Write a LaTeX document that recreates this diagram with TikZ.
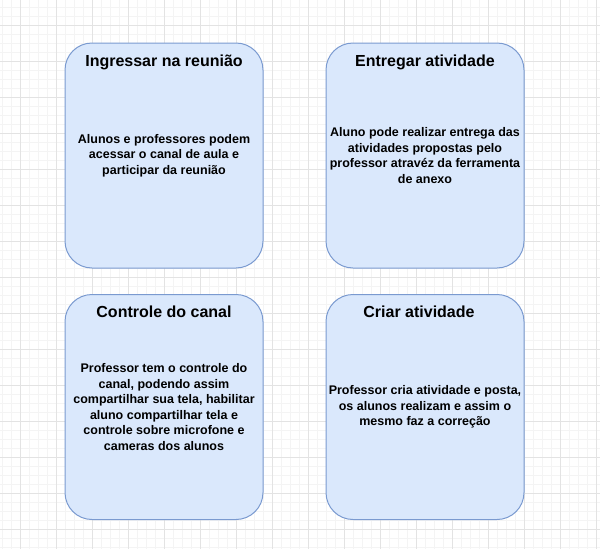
\documentclass[tikz,border=0pt]{standalone}
\usepackage{fontspec}
\setmainfont{Liberation Sans}
\usepackage{tikz}

\definecolor{cardfill}{HTML}{DAE8FC}
\definecolor{carddraw}{HTML}{7A9AD0}
\definecolor{gridminor}{HTML}{F4F4F4}
\definecolor{gridmajor}{HTML}{E3E3E3}

\tikzset{
    card/.style={draw=carddraw, fill=cardfill, line width=1pt, rounded corners=27pt,
        minimum width=198pt, minimum height=225pt, inner sep=0pt},
    cardtitle/.style={anchor=base, inner sep=0pt, font=\fontsize{16}{19}\selectfont\bfseries},
    cardtext/.style={align=center, inner sep=0pt, font=\fontsize{12.5}{15.5}\selectfont\bfseries}
}

\begin{document}
\begin{tikzpicture}[x=1pt, y=-1pt]

    % Background grid
    \useasboundingbox (0,0) rectangle (600,549);
    \fill[white] (0,0) rectangle (600,549);
    \foreach \gx in {2,11,...,596} \draw[gridminor, line width=1pt] (\gx,0) -- (\gx,549);
    \foreach \gy in {7,16,...,547} \draw[gridminor, line width=1pt] (0,\gy) -- (600,\gy);
    \foreach \gx in {20,56,...,596} \draw[gridmajor, line width=1pt] (\gx,0) -- (\gx,549);
    \foreach \gy in {25,61,...,529} \draw[gridmajor, line width=1pt] (0,\gy) -- (600,\gy);

    % Ingressar na reuniao
    \node[card] (Ingressar) at (164, 155.5) {};
    \path (Ingressar.north) ++(0, 23.5) node[cardtitle] (Ingressar title) {Ingressar na reunião};
    \node[cardtext] (Ingressar text) at (Ingressar.center) {
    Alunos e professores podem\\ acessar o canal de aula e\\ participar da reunião
    };

    % Entregar atividade
    \node[card] (Entregar) at (425, 155.5) {};
    \path (Entregar.north) ++(0, 23.5) node[cardtitle] (Entregar title) {Entregar atividade};
    \node[cardtext] (Entregar text) at (Entregar.center) {
    Aluno pode realizar entrega das\\ atividades propostas pelo\\ professor atravéz da ferramenta\\ de anexo
    };

    % Controle do canal
    \node[card] (Controle) at (164, 407) {};
    \path (Controle.north) ++(0, 23.5) node[cardtitle] (Controle title) {Controle do canal};
    \node[cardtext] (Controle text) at (Controle.center) {
    Professor tem o controle do\\ canal, podendo assim\\ compartilhar sua tela, habilitar\\ aluno compartilhar tela e\\ controle sobre microfone e\\ cameras dos alunos
    };

    % Criar atividade
    \node[card] (Criar) at (425, 407) {};
    \path (Criar.north) ++(-6, 23.5) node[cardtitle] (Criar title) {Criar atividade};
    \node[cardtext] (Criar text) at (Criar.center) {
    Professor cria atividade e posta,\\ os alunos realizam e assim o\\ mesmo faz a correção
    };

\end{tikzpicture}
\end{document}
